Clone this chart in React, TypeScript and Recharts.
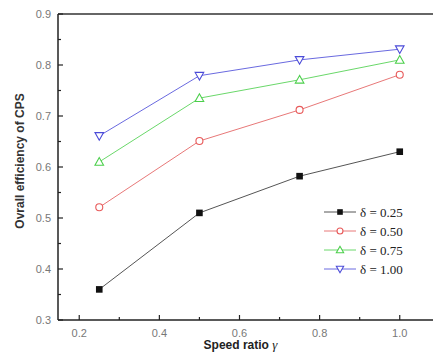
import React from 'react';
import { LineChart, Line, XAxis, YAxis, ReferenceLine, Label } from 'recharts';

const speedRatios = [0.25, 0.5, 0.75, 1.0];
const delta025 = [0.36, 0.51, 0.582, 0.63];
const delta050 = [0.521, 0.651, 0.712, 0.781];
const delta075 = [0.61, 0.735, 0.771, 0.81];
const delta100 = [0.661, 0.779, 0.81, 0.831];
const seriesNames = ['δ = 0.25', 'δ = 0.50', 'δ = 0.75', 'δ = 1.00'];
const xTicks = [0.2, 0.3, 0.4, 0.5, 0.6, 0.7, 0.8, 0.9, 1.0];
const yTicks = [0.3, 0.35, 0.4, 0.45, 0.5, 0.55, 0.6, 0.65, 0.7, 0.75, 0.8, 0.85, 0.9];

const data = speedRatios.map((x, i) => ({
  x,
  d025: delta025[i],
  d050: delta050[i],
  d075: delta075[i],
  d100: delta100[i],
}));

const series = [
  { key: 'd025', name: seriesNames[0], color: '#111111', line: '#555555', shape: 'square' },
  { key: 'd050', name: seriesNames[1], color: '#e85a5a', line: '#e87878', shape: 'circle' },
  { key: 'd075', name: seriesNames[2], color: '#4ccf4c', line: '#6ad86a', shape: 'up' },
  { key: 'd100', name: seriesNames[3], color: '#4b4bd8', line: '#6a6ae0', shape: 'down' },
];

function Marker({ cx, cy, shape, color, s = 1 }: any) {
  if (cx == null || cy == null) return null;
  if (shape === 'square') {
    return <rect x={cx - 3.3 * s} y={cy - 3.3 * s} width={6.6 * s} height={6.6 * s} fill={color} />;
  }
  if (shape === 'circle') {
    return <circle cx={cx} cy={cy} r={3.5 * s} fill="#fff" stroke={color} strokeWidth={1.1} />;
  }
  if (shape === 'up') {
    const p = `${cx},${cy - 4.3 * s} ${cx - 4.3 * s},${cy + 3.3 * s} ${cx + 4.3 * s},${cy + 3.3 * s}`;
    return <polygon points={p} fill="#fff" stroke={color} strokeWidth={1.1} />;
  }
  const p = `${cx},${cy + 4.3 * s} ${cx - 4.3 * s},${cy - 3.3 * s} ${cx + 4.3 * s},${cy - 3.3 * s}`;
  return <polygon points={p} fill="#fff" stroke={color} strokeWidth={1.1} />;
}

const isMajor = (v: number) => Math.round(v * 100) % 10 === 0;

function YTick(props: any) {
  const { x, y, payload } = props;
  const v = payload.value;
  const major = isMajor(v);
  const ax = x + 6;
  return (
    <g>
      <line x1={ax} y1={y} x2={ax + (major ? 5 : 3)} y2={y} stroke="#222" strokeWidth={1.2} />
      {major && (
        <text x={x - 1} y={y} dy={4} textAnchor="end" fill="#777" fontSize={11} fontFamily="Liberation Sans, Arial, sans-serif">
          {v.toFixed(1)}
        </text>
      )}
    </g>
  );
}

function XTick(props: any) {
  const { x, y, payload } = props;
  const v = payload.value;
  const major = Math.round(v * 10) % 2 === 0;
  const ay = y - 6;
  return (
    <g>
      <line x1={x} y1={ay} x2={x} y2={ay - (major ? 5 : 3)} stroke="#222" strokeWidth={1.2} />
      {major && (
        <text x={x} y={y} dy={11} textAnchor="middle" fill="#777" fontSize={11} fontFamily="Liberation Sans, Arial, sans-serif">
          {v.toFixed(1)}
        </text>
      )}
    </g>
  );
}

function LegendBox() {
  return (
    <svg width={100} height={80} style={{ display: 'block' }}>
      {series.map((s, i) => {
        const cy = 9 + i * 19;
        return (
          <g key={s.key}>
            <line x1={4} y1={cy} x2={36} y2={cy} stroke={s.line} strokeWidth={1} />
            <Marker cx={20} cy={cy} shape={s.shape} color={s.color} s={0.85} />
            <text x={40} y={cy} dy={4.5} fontSize={13} fill="#222" fontFamily="Liberation Serif, Times New Roman, serif">
              {s.name}
            </text>
          </g>
        );
      })}
    </svg>
  );
}

export default function App() {
  return (
    <div style={{ position: 'absolute', left: 0, top: 0, width: 433, height: 358, background: '#fff' }}>
      <LineChart width={433} height={358} data={data} margin={{ top: 14, right: 0, bottom: 0, left: 0 }}>
        <XAxis
          dataKey="x"
          type="number"
          domain={[0.147, 1.083]}
          allowDataOverflow
          ticks={xTicks}
          interval={0}
          height={38}
          tickSize={0}
          tickMargin={6}
          tickLine={false}
          tick={<XTick />}
          axisLine={{ stroke: '#222', strokeWidth: 1.5 }}
        >
          <Label
            value="Speed ratio"
            content={(p: any) => {
              const vb = p.viewBox;
              const cx = vb.x + vb.width / 2 - 5;
              return (
                <text x={cx} y={vb.y + 29} textAnchor="middle" fontSize={12} fontWeight="bold" fill="#222" fontFamily="Liberation Sans, Arial, sans-serif">
                  Speed ratio{' '}
                  <tspan fontFamily="Liberation Serif, Times New Roman, serif" fontStyle="italic" fontWeight="normal" fontSize={13}>γ</tspan>
                </text>
              );
            }}
          />
        </XAxis>
        <YAxis
          type="number"
          domain={[0.3, 0.9]}
          ticks={yTicks}
          interval={0}
          width={58}
          tickSize={0}
          tickMargin={6}
          tickLine={false}
          tick={<YTick />}
          axisLine={{ stroke: '#222', strokeWidth: 1.5 }}
        >
          <Label
            value="Ovrall efficiency of CPS"
            content={(p: any) => {
              const vb = p.viewBox;
              const cy = vb.y + vb.height / 2 - 6;
              return (
                <text
                  x={20}
                  y={cy}
                  transform={`rotate(-90 20 ${cy})`}
                  textAnchor="middle"
                  dy={4}
                  fontSize={12}
                  fontWeight="bold"
                  fill="#333"
                  fontFamily="Liberation Sans, Arial, sans-serif"
                >
                  Ovrall efficiency of CPS
                </text>
              );
            }}
          />
        </YAxis>
        <ReferenceLine y={0.9} stroke="#333" strokeWidth={1.5} />
        {series.map((s) => (
          <Line
            key={s.key}
            dataKey={s.key}
            name={s.name}
            stroke={s.line}
            strokeWidth={1}
            isAnimationActive={false}
            dot={(p: any) => <Marker key={`${s.key}-${p.index}`} cx={p.cx} cy={p.cy} shape={s.shape} color={s.color} />}
            activeDot={false}
          />
        ))}
      </LineChart>
      <div style={{ position: 'absolute', left: 320, top: 203 }}>
        <LegendBox />
      </div>
    </div>
  );
}
